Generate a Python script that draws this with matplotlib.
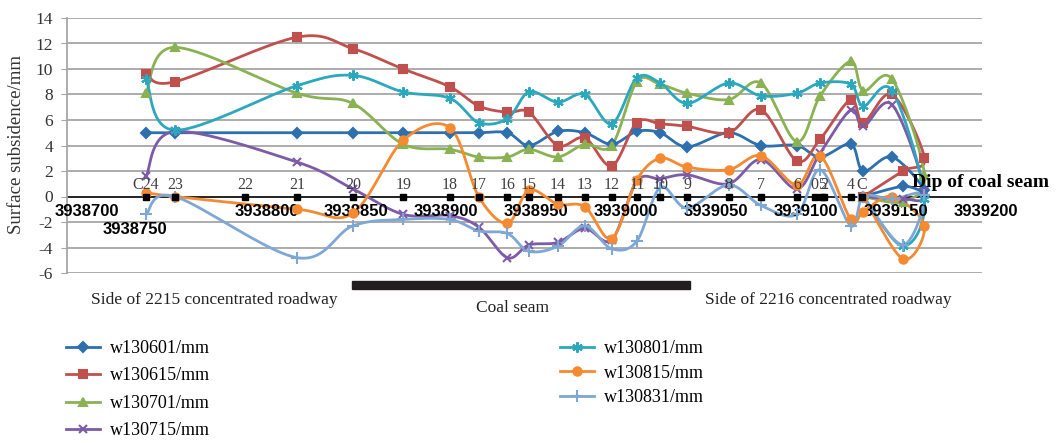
import numpy as np
import matplotlib.pyplot as plt
from matplotlib.lines import Line2D
from matplotlib.patches import Rectangle

# survey stations along the line (northing) and their names
stations = ["C24", "23", "22", "21", "20", "19", "18", "17", "16", "15", "14", "13",
            "12", "11", "10", "9", "8", "7", "6", "0", "5", "2", "4", "C"]
station_n = [3938733, 3938749, 3938788, 3938817, 3938848, 3938876, 3938902, 3938918,
             3938934, 3938946, 3938962, 3938977, 3938992, 3939006, 3939019, 3939034,
             3939057, 3939075, 3939095, 3939105, 3939109, 3939110, 3939125, 3939131]

# measured points of each series (same order for all series, line returns at the end)
point_n = [3938733, 3938749, 3938817, 3938848, 3938876, 3938902, 3938918, 3938934,
           3938946, 3938962, 3938977, 3938992, 3939006, 3939019, 3939034, 3939057,
           3939075, 3939095, 3939108, 3939125, 3939132, 3939148, 3939166, 3939154,
           3939132]

w130601 = [5.0, 5.0, 5.0, 5.0, 5.0, 5.0, 5.0, 5.0, 4.0, 5.1, 5.0, 4.1, 5.1, 5.0, 3.9,
           5.0, 4.0, 4.0, 3.1, 4.1, 2.0, 3.1, 0.5, 0.8, 0.0]
w130615 = [9.6, 9.0, 12.5, 11.6, 10.0, 8.6, 7.1, 6.6, 6.6, 4.0, 4.6, 2.4, 5.8, 5.7, 5.5,
           5.0, 6.8, 2.8, 4.5, 7.6, 5.8, 8.0, 3.0, 2.0, 0.0]
w130701 = [8.1, 11.7, 8.1, 7.3, 4.1, 3.7, 3.1, 3.1, 3.7, 3.1, 4.1, 4.0, 9.0, 8.8, 8.1,
           7.6, 8.9, 4.3, 7.9, 10.6, 8.3, 9.2, 1.7, -0.4, 0.0]
w130715 = [1.6, 5.1, 2.7, 0.6, -1.4, -1.5, -2.4, -4.8, -3.8, -3.6, -2.5, -3.4, 1.2, 1.4,
           1.7, 1.0, 2.9, 0.6, 3.4, 6.8, 5.5, 7.2, 0.4, -0.2, 0.0]
w130801 = [9.2, 5.2, 8.7, 9.5, 8.2, 7.7, 5.8, 6.1, 8.2, 7.4, 8.0, 5.7, 9.3, 8.9, 7.3,
           8.9, 7.9, 8.1, 8.9, 8.8, 7.1, 8.3, -0.2, -3.9, 0.0]
w130815 = [0.3, 0.0, -1.0, -1.3, 4.4, 5.4, 0.0, -2.1, 0.5, -0.6, -0.8, -3.3, 1.3, 3.0,
           2.3, 2.1, 3.2, 0.9, 3.2, -1.8, -1.2, 0.0, -2.3, -4.9, 0.0]
w130831 = [-1.4, 0.0, -4.8, -2.3, -1.8, -1.8, -2.7, -2.9, -4.3, -3.9, -2.3, -4.1, -3.5,
           0.7, -0.9, 0.9, -0.7, -1.4, 2.1, -2.3, 0.0, -0.2, 0.1, -3.8, 0.0]

series_names = ["w130601/mm", "w130615/mm", "w130701/mm", "w130715/mm",
                "w130801/mm", "w130815/mm", "w130831/mm"]
axis_ticks = [3938700, 3938750, 3938800, 3938850, 3938900, 3938950,
              3939000, 3939050, 3939100, 3939150, 3939200]

W, H = 1059, 443
plt.rcParams["axes.unicode_minus"] = False


def fx(px):
    return px / W


def fy(py):
    return 1 - py / H


def smooth(xs, ys, n=20):
    # Excel style smoothed line (Catmull-Rom as cubic Bezier)
    p = np.column_stack([xs, ys]).astype(float)
    ext = np.vstack([p[0], p, p[-1]])
    t = np.linspace(0, 1, n)[:, None]
    parts = []
    for i in range(len(p) - 1):
        p0, p1, p2, p3 = ext[i], ext[i + 1], ext[i + 2], ext[i + 3]
        b1 = p1 + (p2 - p0) / 6
        b2 = p2 - (p3 - p1) / 6
        seg = ((1 - t) ** 3) * p1 + 3 * ((1 - t) ** 2) * t * b1 \
            + 3 * (1 - t) * t ** 2 * b2 + t ** 3 * p2
        parts.append(seg if i == 0 else seg[1:])
    q = np.vstack(parts)
    return q[:, 0], q[:, 1]


serif = "Liberation Serif"
colors = ["#2E6FAE", "#C0504D", "#8AB253", "#7D5BA6", "#2CA8BE", "#F58A31", "#7FA7D6"]
markers = ["D", "s", "^", "x", (6, 2, 0), "o", "+"]
msizes = [5, 5.5, 6, 6, 7.5, 6, 8]

fig = plt.figure(figsize=(W / 100, H / 100), dpi=100)
ax = fig.add_axes([fx(67), fy(273), fx(982) - fx(67), fy(18) - fy(273)])
ax.set_xlim(3938689, 3939198)
ax.set_ylim(-6, 14)
ax.set_yticks(range(-6, 15, 2))
ax.set_xticks([])
for s in ["top", "right", "bottom"]:
    ax.spines[s].set_visible(False)
ax.spines["left"].set_color("#A6A6A6")
ax.spines["left"].set_linewidth(1.3)
ax.grid(axis="y", color="#A6A6A6", linewidth=1.3)
ax.set_axisbelow(True)
ax.tick_params(axis="y", length=4, color="#A6A6A6", pad=6, labelsize=12.5,
               labelcolor="#333333")
for lab in ax.get_yticklabels():
    lab.set_fontfamily(serif)
ax.axhline(0, color="#1A1A1A", linewidth=1.3, zorder=1)

fig.text(fx(17), fy(145), "Surface subsidence/mm", rotation=90, ha="center",
         va="center", fontsize=13.5, family=serif, color="#333333")

data = [w130601, w130615, w130701, w130715, w130801, w130815, w130831]
for vals, c, m, ms in zip(data, colors, markers, msizes):
    sx, sy = smooth(point_n, vals)
    ax.plot(sx, sy, color=c, linewidth=2.0, zorder=3, solid_capstyle="round")
    ax.plot(point_n, vals, linestyle="none", marker=m, markersize=ms, color=c,
            markeredgecolor=c, markeredgewidth=1.5, zorder=4)

# station points on the zero line
ax.plot(station_n, [0] * len(station_n), linestyle="none", marker="s",
        markersize=4, color="black", zorder=5)
for name, xv in zip(stations, station_n):
    ax.text(xv, 0.3, name, ha="center", va="bottom", fontsize=11.5,
            family=serif, color="#404040", zorder=6)

# axis values along the zero line (one is set lower)
for xv in axis_ticks:
    if xv == 3938750:
        ax.annotate(str(xv), (xv, -2.6), xytext=(-30, 0), textcoords="offset points",
                    ha="center", va="center", fontsize=12, fontweight="bold",
                    family="Liberation Sans", annotation_clip=False)
    else:
        ax.text(xv, -1.2, str(xv), ha="center", va="center", fontsize=12,
                fontweight="bold", family="Liberation Sans", clip_on=False)

ax.text(3939159, 1.1, "Dip of coal seam", ha="left", va="center", fontsize=14,
        fontweight="bold", family=serif, clip_on=False, zorder=7)

# coal seam bar and side notes
fig.add_artist(Rectangle((fx(352), fy(289)), fx(690) - fx(352), fy(281) - fy(289),
                         transform=fig.transFigure, color="#231F20"))
fig.text(fx(214), fy(300), "Side of 2215 concentrated roadway", ha="center",
         va="center", fontsize=12.5, family=serif, color="#222222")
fig.text(fx(513), fy(308), "Coal seam", ha="center", va="center", fontsize=12.5,
         family=serif, color="#222222")
fig.text(fx(828), fy(300), "Side of 2216 concentrated roadway", ha="center",
         va="center", fontsize=12.5, family=serif, color="#222222")

handles = [Line2D([], [], color=c, marker=m, markersize=ms, markeredgewidth=1.5,
                  linewidth=2.0) for c, m, ms in zip(colors, markers, msizes)]
fig.legend(handles[:4], series_names[:4], loc="upper left",
           bbox_to_anchor=(fx(66), fy(340)), frameon=False, borderpad=0,
           borderaxespad=0, handlelength=1.9, handletextpad=0.55,
           labelspacing=0.58, prop={"family": serif, "size": 13})
fig.legend(handles[4:], series_names[4:], loc="upper left",
           bbox_to_anchor=(fx(560), fy(340)), frameon=False, borderpad=0,
           borderaxespad=0, handlelength=1.9, handletextpad=0.55,
           labelspacing=0.42, prop={"family": serif, "size": 13})

fig.savefig("out.png", dpi=100)
